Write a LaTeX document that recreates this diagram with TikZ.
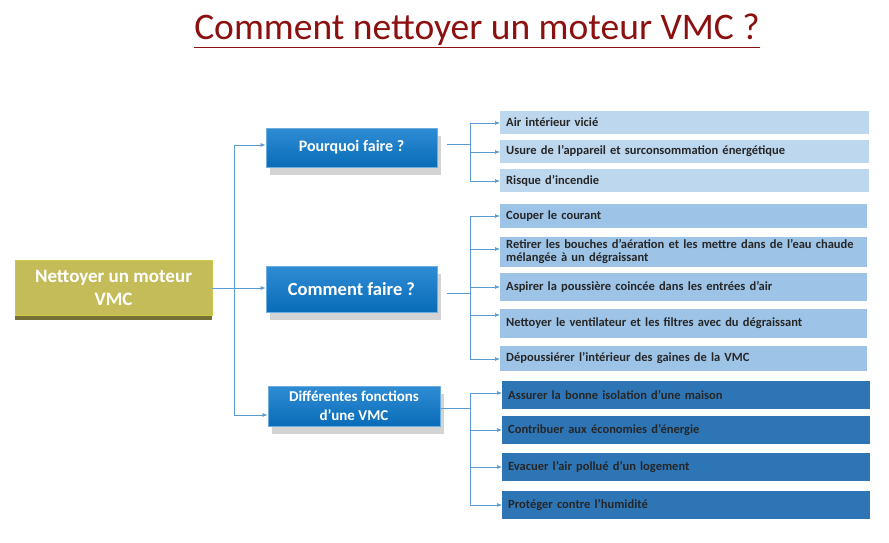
\documentclass[tikz,border=0pt]{standalone}
\usepackage{fontspec}
\setmainfont{Carlito}
\usetikzlibrary{shadows,arrows.meta}
\definecolor{title}{HTML}{8B1010}
\definecolor{olive}{HTML}{C3BC58}
\definecolor{bl}{HTML}{0A78CC}
\definecolor{l1}{HTML}{BDD7EE}
\definecolor{l2}{HTML}{9DC3E6}
\definecolor{l3}{HTML}{2E75B6}
\definecolor{ln}{HTML}{5B9BD5}
\begin{document}
\begin{tikzpicture}[x=1pt,y=-1pt,
  br/.style={draw=bl!60!white,line width=0.8pt,top color=bl!85!white,bottom color=bl!90!black,drop shadow={shadow xshift=4pt,shadow yshift=-8pt,opacity=0.35},text=white,align=center,inner sep=0pt},
  lf/.style={anchor=west,minimum height=#1,text width=357pt,inner xsep=6pt,inner ysep=0pt,font=\fontsize{12.5}{13}\selectfont\bfseries,text=black!85,align=left},
  con/.style={draw=ln,line width=0.7pt},
  ar/.style={con,-{Latex[length=5pt,width=4pt]}}]
\useasboundingbox (0,0) rectangle (889,543);
\node[font=\fontsize{37.5}{40}\selectfont,text=title] (t) at (477,31) {\underline{Comment nettoyer un moteur VMC ?}};
\node[draw=olive!80!yellow,fill=olive,minimum width=197pt,minimum height=55pt,text=white,font=\fontsize{19}{23}\selectfont\bfseries,align=center,inner sep=0pt] (r) at (113.5,288) {Nettoyer un moteur\\VMC};
\fill[olive!60!black] ([yshift=-4pt]r.south west) rectangle (r.south east);
\node[br,minimum width=171pt,minimum height=39pt,font=\fontsize{16}{18}\selectfont\bfseries] (b1) at (351.5,147.5) {Pourquoi faire ?};
\node[br,minimum width=171pt,minimum height=46pt,font=\fontsize{18.5}{20}\selectfont\bfseries] (b2) at (351.5,289) {Comment faire ?};
\node[br,minimum width=172pt,minimum height=40pt,font=\fontsize{15}{19}\selectfont\bfseries] (b3) at (354,406) {Différentes fonctions\\d’une VMC};
\coordinate (j0) at (234,288);
\draw[con] (r.east) -- (j0);
\draw[ar] (234,145) -- (b1.west|-0,145);
\draw[ar] (j0) -- (b2.west|-0,288);
\draw[ar] (234,415) -- (b3.west|-0,415);
\draw[con] (234,145) -- (234,415);
% group 1
\node[lf=23pt,fill=l1] (a1) at (500,122.5) {Air intérieur vicié};
\node[lf=23pt,fill=l1] (a2) at (500,151.5) {Usure de l’appareil et surconsommation énergétique};
\node[lf=23pt,fill=l1] (a3) at (500,180.5) {Risque d’incendie};
\draw[con] (447,144) -- (470,144);
\draw[con] (470,123) -- (470,181);
\foreach \n/\y in {a1/123,a2/152,a3/181} \draw[ar] (470,\y) -- (\n.west|-0,\y);
% group 2
\node[lf=24pt,fill=l2,text width=355pt] (c1) at (500,216) {Couper le courant};
\node[lf=30pt,fill=l2,text width=355pt] (c2) at (500,251.5) {Retirer les bouches d’aération et les mettre dans de l’eau chaude mélangée à un dégraissant};
\node[lf=28pt,fill=l2,text width=355pt] (c3) at (500,287) {Aspirer la poussière coincée dans les entrées d’air};
\node[lf=29pt,fill=l2,text width=355pt] (c4) at (500,323.5) {Nettoyer le ventilateur et les filtres avec du dégraissant};
\node[lf=25pt,fill=l2,text width=355pt] (c5) at (500,358.5) {Dépoussiérer l’intérieur des gaines de la VMC};
\draw[con] (447,293) -- (470,293);
\draw[con] (470,216) -- (470,359);
\foreach \n/\y in {c1/216,c2/249,c3/287,c4/315,c5/359} \draw[ar] (470,\y) -- (\n.west|-0,\y);
% group 3
\node[lf=28pt,fill=l3,text width=356pt] (d1) at (502,395) {Assurer la bonne isolation d’une maison};
\node[lf=28pt,fill=l3,text width=356pt] (d2) at (502,430) {Contribuer aux économies d’énergie};
\node[lf=28pt,fill=l3,text width=356pt] (d3) at (502,467) {Evacuer l’air pollué d’un logement};
\node[lf=28pt,fill=l3,text width=356pt] (d4) at (502,505) {Protéger contre l’humidité};
\draw[con] (441,408) -- (470,408);
\draw[con] (470,393) -- (470,505);
\foreach \n/\y in {d1/393,d2/430,d3/467,d4/505} \draw[ar] (470,\y) -- (\n.west|-0,\y);
\end{tikzpicture}
\end{document}
